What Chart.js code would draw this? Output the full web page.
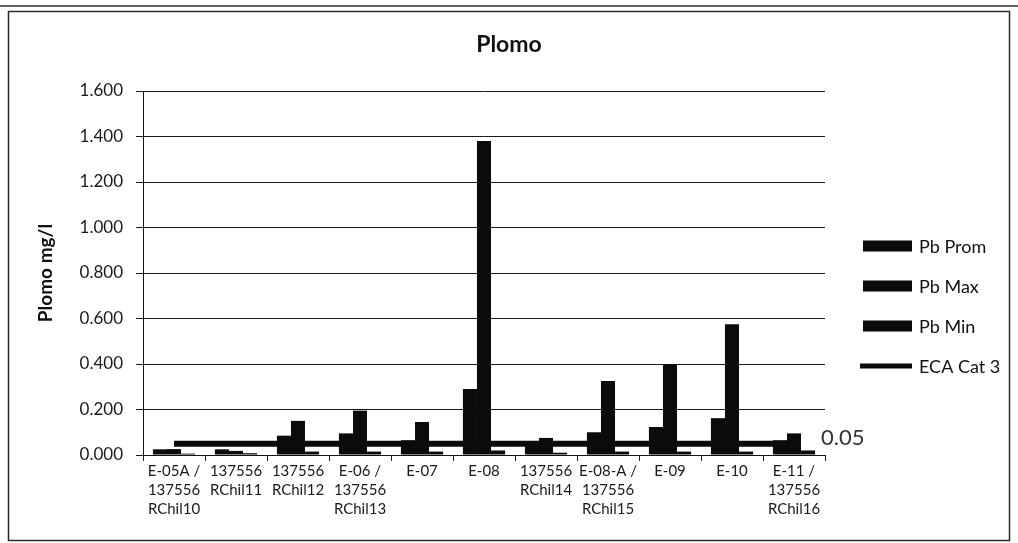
<!DOCTYPE html>
<html>
<head>
<meta charset="utf-8">
<style>
  html, body { margin: 0; padding: 0; background: #ffffff; }
  #wrap { width: 1018px; height: 543px; position: relative; }
</style>
<script src="https://cdn.jsdelivr.net/npm/chart.js@4/dist/chart.umd.min.js"></script>
</head>
<body>
<div id="wrap"><canvas id="c" width="1018" height="543"></canvas></div>
<script>
// Sampling stations (multi-line axis labels)
const categories = [
  ["E-05A /", "137556", "RChil10"],
  ["137556", "RChil11"],
  ["137556", "RChil12"],
  ["E-06 /", "137556", "RChil13"],
  "E-07",
  "E-08",
  ["137556", "RChil14"],
  ["E-08-A /", "137556", "RChil15"],
  "E-09",
  "E-10",
  ["E-11 /", "137556", "RChil16"]
];

// Lead concentrations, mg/l
const pbProm = [0.025, 0.025, 0.085, 0.095, 0.065, 0.290, 0.055, 0.100, 0.123, 0.162, 0.065];
const pbMax  = [0.026, 0.018, 0.150, 0.195, 0.145, 1.380, 0.075, 0.325, 0.400, 0.575, 0.095];
const pbMin  = [0.006, 0.008, 0.015, 0.015, 0.015, 0.020, 0.010, 0.015, 0.015, 0.015, 0.020];

// Standard limit (ECA Categoría 3)
const ecaLimit = 0.05;
const ecaCat3 = categories.map(() => ecaLimit);

const seriesNames = ["Pb Prom", "Pb Max", "Pb Min", "ECA Cat 3"];
const chartTitle = "Plomo";
const yTicks = { min: 0, max: 1.6, step: 0.2 };

const FONT = "Lato, 'Open Sans', sans-serif";
const INK = "#0b0b0b";

// Page frame, centred title, side legend and the limit value label
const decorations = {
  id: "decorations",
  beforeDraw(chart) {
    const ctx = chart.ctx;
    ctx.save();
    ctx.fillStyle = "#ffffff";
    ctx.fillRect(0, 0, chart.width, chart.height);
    ctx.strokeStyle = "#2a2a2a";
    ctx.lineWidth = 1.5;
    ctx.beginPath();
    ctx.moveTo(0, 6); ctx.lineTo(chart.width, 6);
    ctx.stroke();
    ctx.strokeRect(8.5, 11.5, chart.width - 17, chart.height - 14);
    ctx.restore();
  },
  afterDraw(chart) {
    const ctx = chart.ctx;
    const area = chart.chartArea;
    const y = chart.scales.y;
    ctx.save();
    // title
    ctx.font = "bold 23px " + FONT;
    ctx.fillStyle = "#111";
    ctx.textAlign = "center";
    ctx.textBaseline = "middle";
    ctx.fillText(chartTitle, chart.width / 2, 45);
    // legend
    const x0 = area.right + 38;
    const y0 = area.top + 155;
    ctx.font = "18px " + FONT;
    ctx.textAlign = "left";
    chart.data.datasets.forEach((ds, i) => {
      const cy = y0 + i * 40;
      ctx.fillStyle = INK;
      ctx.strokeStyle = INK;
      if (ds.type === "line") {
        ctx.lineWidth = 5;
        ctx.beginPath();
        ctx.moveTo(x0 - 3, cy);
        ctx.lineTo(x0 + 49, cy);
        ctx.stroke();
      } else {
        ctx.fillRect(x0, cy - 5.5, 49, 11);
      }
      ctx.fillStyle = "#111";
      ctx.fillText(ds.label, x0 + 56, cy + 1);
    });
    // limit value
    ctx.font = "22px " + FONT;
    ctx.fillStyle = "#333";
    ctx.fillText(ecaLimit.toFixed(2), area.right - 4, y.getPixelForValue(ecaLimit) - 6);
    ctx.restore();
  }
};

const barBase = {
  type: "bar",
  backgroundColor: INK,
  borderWidth: 0,
  categoryPercentage: 0.68,
  barPercentage: 1.0,
  order: 1
};

new Chart(document.getElementById("c"), {
  data: {
    labels: categories,
    datasets: [
      Object.assign({}, barBase, { label: seriesNames[0], data: pbProm }),
      Object.assign({}, barBase, { label: seriesNames[1], data: pbMax }),
      Object.assign({}, barBase, { label: seriesNames[2], data: pbMin }),
      {
        type: "line",
        label: seriesNames[3],
        data: ecaCat3,
        borderColor: INK,
        backgroundColor: INK,
        borderWidth: 6,
        pointRadius: 0,
        tension: 0,
        order: 0
      }
    ]
  },
  options: {
    responsive: false,
    animation: false,
    devicePixelRatio: 1,
    layout: { padding: { left: 31, right: 193, top: 91, bottom: 8 } },
    plugins: {
      legend: { display: false },
      tooltip: { enabled: false },
      title: { display: false }
    },
    scales: {
      x: {
        grid: { display: true, drawOnChartArea: false, drawTicks: true, tickLength: 6, color: "#222", offset: true },
        border: { display: true, color: "#111", width: 1 },
        ticks: {
          color: "#1a1a1a",
          font: { family: FONT, size: 15, lineHeight: 1.25 },
          maxRotation: 0,
          autoSkip: false,
          padding: 1
        },
        afterFit(s) { s.height = 80; }
      },
      y: {
        min: yTicks.min,
        max: yTicks.max,
        grid: { color: "#1a1a1a", lineWidth: 1, tickLength: 7, drawTicks: true },
        border: { display: true, color: "#111", width: 1 },
        ticks: {
          stepSize: yTicks.step,
          color: "#1a1a1a",
          font: { family: FONT, size: 17 },
          padding: 13,
          callback: (v) => Number(v).toFixed(3)
        },
        title: {
          display: true,
          text: "Plomo mg/l",
          color: "#111",
          font: { family: FONT, size: 19, weight: "bold", lineHeight: 1.2 },
          padding: { top: 3, bottom: 4 }
        },
        afterFit(s) { s.width = 112; }
      }
    }
  },
  plugins: [decorations]
});
</script>
</body>
</html>
